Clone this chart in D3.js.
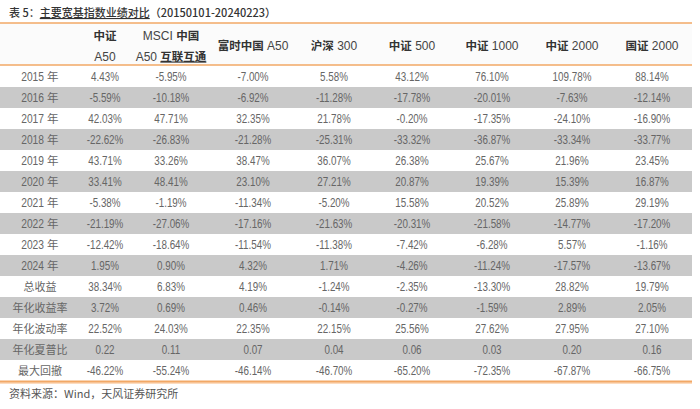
<!DOCTYPE html>
<html><head><meta charset="utf-8">
<script src="https://cdn.jsdelivr.net/npm/d3@7"></script>
<style>
html,body{margin:0;padding:0;background:#fff;}
svg{display:block;}
</style></head>
<body>
<svg id="c" width="700" height="409"></svg>
<script>
// ---- data ----
const title = "表 5：主要宽基指数业绩对比（20150101-20240223）";
const source = "资料来源：Wind，天风证券研究所";
const headers = [["中证","A50"],["MSCI 中国","A50 互联互通"],["富时中国 A50"],["沪深 300"],["中证 500"],["中证 1000"],["中证 2000"],["国证 2000"]];
const rowLabels = ["2015 年","2016 年","2017 年","2018 年","2019 年","2020 年","2021 年","2022 年","2023 年","2024 年","总收益","年化收益率","年化波动率","年化夏普比","最大回撤"];
const csiA50   = [4.43,-5.59,42.03,-22.62,43.71,33.41,-5.38,-21.19,-12.42,1.95,38.34,3.72,22.52,0.22,-46.22];
const msciA50  = [-5.95,-10.18,47.71,-26.83,33.26,48.41,-1.19,-27.06,-18.64,0.90,6.83,0.69,24.03,0.11,-55.24];
const ftseA50  = [-7.00,-6.92,32.35,-21.28,38.47,23.10,-11.34,-17.16,-11.54,4.32,4.19,0.46,22.35,0.07,-46.14];
const hs300    = [5.58,-11.28,21.78,-25.31,36.07,27.21,-5.20,-21.63,-11.38,1.71,-1.24,-0.14,22.15,0.04,-46.70];
const csi500   = [43.12,-17.78,-0.20,-33.32,26.38,20.87,15.58,-20.31,-7.42,-4.26,-2.35,-0.27,25.56,0.06,-65.20];
const csi1000  = [76.10,-20.01,-17.35,-36.87,25.67,19.39,20.52,-21.58,-6.28,-11.24,-13.30,-1.59,27.62,0.03,-72.35];
const csi2000  = [109.78,-7.63,-24.10,-33.34,21.96,15.39,25.89,-14.77,5.57,-17.57,28.82,2.89,27.95,0.20,-67.87];
const cni2000  = [88.14,-12.14,-16.90,-33.77,23.45,16.87,29.19,-17.20,-1.16,-13.67,19.79,2.05,27.10,0.16,-66.75];
const series = [csiA50,msciA50,ftseA50,hs300,csi500,csi1000,csi2000,cni2000];
const ratioRow = "年化夏普比";

// ---- layout ----
const tableL = 0, tableR = 692;
const headTop = 23, headBot = 65, bodyBot = 381;
const colWidths = [80,50,82,82,80,76,84,76,84]; // relative widths: label col + 8 data cols
const numFont = "'Liberation Sans',Arial,sans-serif";
const cjkFont = "'Noto Sans CJK SC','Liberation Sans',sans-serif";
const narrow = 0.82;
const textGray = "#666";

const svg = d3.select("#c");

const colKeys = d3.range(colWidths.length);
const wScale = d3.scaleLinear().domain([0, d3.sum(colWidths)]).range([0, 694]);
const cum = d3.cumsum([0].concat(colWidths));
const x = d3.scaleOrdinal().domain(colKeys).range(colKeys.map(i => wScale((cum[i]+cum[i+1])/2)));
const y = d3.scaleBand().domain(rowLabels).range([headBot+1, bodyBot]);
const yText = d => y(d) + y.bandwidth()/2 + 4.5;

const loc = d3.formatLocale({decimal:".",thousands:",",grouping:[3],currency:["",""],minus:"-"});
const fmt = loc.format(".2f");

// header bg
svg.append("rect").attr("x",tableL).attr("y",headTop).attr("width",tableR-tableL).attr("height",headBot-headTop).attr("fill","#fbfbfb");

// row bands
svg.selectAll("rect.band").data(rowLabels).join("rect")
  .attr("class","band")
  .attr("x",tableL).attr("width",tableR-tableL)
  .attr("y",d=>y(d)).attr("height",y.bandwidth())
  .attr("fill",(d,i)=> i%2===1 ? "#c9c9c9" : "#ffffff");

// lines
const orange = "#f2a866";
svg.append("line").attr("x1",tableL).attr("x2",tableR).attr("y1",headTop).attr("y2",headTop).attr("stroke",orange).attr("stroke-width",1.5);
svg.append("line").attr("x1",tableL).attr("x2",tableR).attr("y1",headBot).attr("y2",headBot).attr("stroke",orange).attr("stroke-width",1.5);
svg.append("rect").attr("x",tableL).attr("width",tableR-tableL).attr("y",bodyBot).attr("height",3).attr("fill","#fcdcc0");
svg.append("line").attr("x1",tableL).attr("x2",tableR).attr("y1",bodyBot+0.5).attr("y2",bodyBot+0.5).attr("stroke",orange).attr("stroke-width",2);

// title
const t = svg.append("text").attr("x",9).attr("y",17).attr("font-family",cjkFont).attr("font-size",11).attr("font-weight",500).attr("fill","#333");
t.append("tspan").text("表 5：");
t.append("tspan").attr("text-decoration","underline").text("主要宽基指数业绩对比");
t.append("tspan").text("（20150101-20240223）");

// headers
const hg = svg.selectAll("g.hdr").data(headers).join("g").attr("class","hdr")
  .attr("transform",(d,i)=>`translate(${x(i+1)},0)`);
hg.each(function(d){
  const g = d3.select(this);
  const ys = d.length===2 ? [39.5,60.5] : [50];
  d.forEach((line,k)=>{
    const tx = g.append("text").attr("y",ys[k]).attr("text-anchor","middle")
      .attr("font-family",cjkFont).attr("font-size",11.5).attr("fill","#333");
    const parts = line.match(/[\u4e00-\u9fff]+|[^\u4e00-\u9fff]+/g);
    parts.forEach(p=>{
      const sp = tx.append("tspan").text(p);
      if(/[\u4e00-\u9fff]/.test(p)){ sp.attr("font-weight",700); if(p==="互联互通") sp.attr("text-decoration","underline"); }
      else sp.attr("font-family","'Liberation Sans','Noto Sans',sans-serif").attr("font-size",12).attr("fill","#444");
    });
  });
});

// row labels
svg.selectAll("g.rl").data(rowLabels).join("g").attr("class","rl")
  .attr("transform",d=>`translate(${x(0)},${yText(d)})`)
  .each(function(d){
    const g = d3.select(this);
    if(/^\d/.test(d)){
      const [num, nian] = d.split(" ");
      g.append("text").attr("text-anchor","end").attr("transform",`translate(4,0) scale(${narrow},1)`)
        .attr("font-family",numFont).attr("font-size",12.5).attr("fill",textGray).text(num);
      g.append("text").attr("x",7).attr("text-anchor","start")
        .attr("font-family",cjkFont).attr("font-size",11.5).attr("fill",textGray).text(nian);
    } else {
      g.append("text").attr("text-anchor","middle").attr("fill",textGray)
        .attr("font-family",cjkFont).attr("font-size",11).text(d);
    }
  });

// cells
series.forEach((vals,ci)=>{
  svg.selectAll(`text.c${ci}`).data(vals).join("text").attr("class",`c${ci}`)
    .attr("text-anchor","middle").attr("font-family",numFont).attr("font-size",12).attr("fill",textGray)
    .attr("transform",(d,ri)=>`translate(${x(ci+1)},${yText(rowLabels[ri])}) scale(${narrow},1)`)
    .text((d,ri)=> rowLabels[ri]===ratioRow ? fmt(d) : fmt(d)+"%");
});

// source
svg.append("text").attr("x",9).attr("y",398).attr("font-family",cjkFont).attr("font-size",11).attr("fill","#555").text(source);
</script>
</body></html>
